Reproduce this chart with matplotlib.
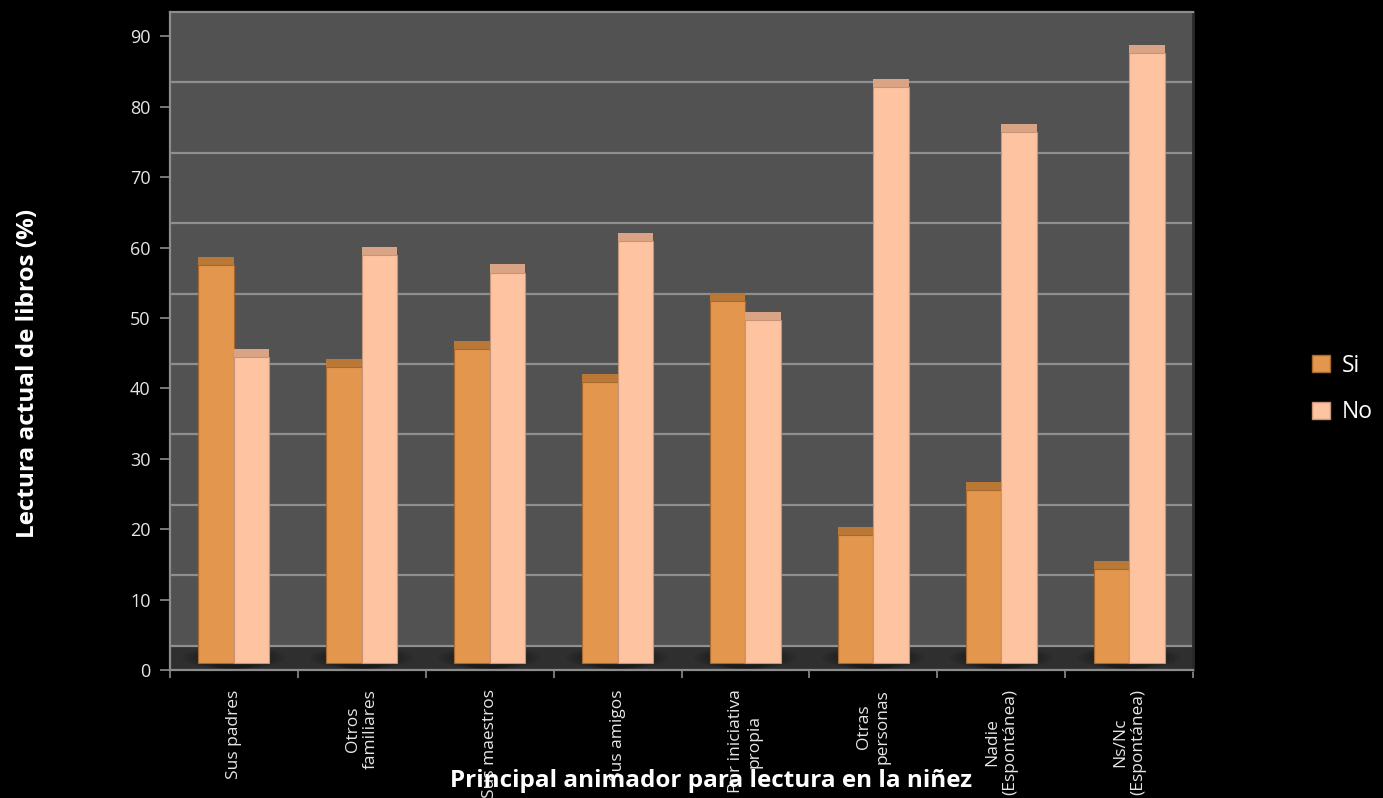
import matplotlib
matplotlib.use("Agg")
import matplotlib.pyplot as plt
from matplotlib.patches import Patch, Rectangle, Ellipse
import numpy as np

categories = ["Sus padres", "Otros\nfamiliares", "Sus maestros", "Sus amigos",
              "Por iniciativa\npropia", "Otras\npersonas", "Nadie\n(Espontánea)",
              "Ns/Nc\n(Espontánea)"]
si_values = [56.6, 42.1, 44.6, 39.9, 51.4, 18.2, 24.6, 13.4]
no_values = [43.5, 58.0, 55.5, 60.0, 48.7, 81.8, 75.5, 86.7]
series_names = ["Si", "No"]
yticks = [0, 10, 20, 30, 40, 50, 60, 70, 80, 90]

plt.rcParams['font.family'] = ['Open Sans', 'DejaVu Sans']

W, H = 1383, 798
fig = plt.figure(figsize=(W / 100, H / 100), dpi=100, facecolor="black")
ax = fig.add_axes([170 / W, 1 - 670 / H, (1193 - 170) / W, (670 - 12) / H])
ax.set_facecolor("#525252")

FLOOR = 3.45      # depth offset of back wall (pseudo-3D)
BASE = 0.95       # bar base sits slightly above axis
CAP = 1.15        # height of bar top cap
bw = 0.278
x = np.arange(len(categories))

ax.set_xlim(-0.5, len(categories) - 0.5)
ax.set_ylim(0, 90 + FLOOR)

# floor band
ax.add_patch(Rectangle((-0.5, 0), len(categories), FLOOR, facecolor="#2f2f2f",
                       edgecolor="none", zorder=1))
# soft shadows on floor
for xi in x:
    for k in range(6):
        ax.add_patch(Ellipse((xi, FLOOR * 0.5), 0.8 - k * 0.08, FLOOR * 0.9,
                             facecolor="black", alpha=0.07, edgecolor="none", zorder=1.5))

# back-wall gridlines
for v in yticks[:-1]:
    ax.axhline(v + FLOOR, color="#8f8f8f", lw=1.6, zorder=2)

si_face, si_cap, si_edge = "#e2964e", "#b97836", "#a8692f"
no_face, no_cap, no_edge = "#fec3a0", "#d9a385", "#c79478"

ax.bar(x - bw / 2, si_values, bw, bottom=BASE, color=si_face, edgecolor=si_edge,
       linewidth=0.8, zorder=3)
ax.bar(x + bw / 2, no_values, bw, bottom=BASE, color=no_face, edgecolor=no_edge,
       linewidth=0.8, zorder=3)
ax.bar(x - bw / 2, [CAP] * len(x), bw, bottom=np.array(si_values) + BASE,
       color=si_cap, edgecolor="none", zorder=3)
ax.bar(x + bw / 2, [CAP] * len(x), bw, bottom=np.array(no_values) + BASE,
       color=no_cap, edgecolor="none", zorder=3)

# axes styling
for s in ["left", "bottom", "top"]:
    ax.spines[s].set_color("#8c8c8c")
    ax.spines[s].set_linewidth(1.6)
ax.spines["right"].set_color("#2a2a2a")
ax.spines["right"].set_linewidth(2)

ax.set_yticks(yticks)
ax.set_yticklabels([str(v) for v in yticks], color="#e6e6e6", fontsize=13)
ax.tick_params(axis="y", length=7, width=1.2, color="#8c8c8c", pad=7)

ax.set_xticks(np.arange(-0.5, len(categories)), labels=[""] * (len(categories) + 1))
ax.tick_params(axis="x", which="major", length=6, width=1.2, color="#8c8c8c")
ax.set_xticks(x, labels=categories, minor=True)
ax.tick_params(axis="x", which="minor", length=0, pad=14)
for lbl in ax.get_xticklabels(minor=True):
    lbl.set_rotation(90)
    lbl.set_ha("center")
    lbl.set_va("top")
    lbl.set_multialignment("center")
    lbl.set_color("#e6e6e6")
    lbl.set_fontsize(12.5)

fig.text(28 / W, 1 - 373 / H, "Lectura actual de libros (%)", rotation=90,
         color="white", fontsize=17.5, fontweight="bold", ha="center", va="center")
fig.text(711 / W, 1 - 781 / H, "Principal animador para lectura en la niñez",
         color="white", fontsize=17.5, fontweight="bold", ha="center", va="center")

handles = [Patch(facecolor=si_face, edgecolor=si_edge), Patch(facecolor=no_face, edgecolor=no_edge)]
leg = fig.legend(handles, series_names, loc="center left",
                 bbox_to_anchor=(1291 / W, 1 - 389 / H), frameon=False,
                 fontsize=16.5, labelcolor="white", handlelength=0.78, handleheight=0.78,
                 handletextpad=0.55, labelspacing=1.0)

fig.savefig("out.png", dpi=100, facecolor="black")
